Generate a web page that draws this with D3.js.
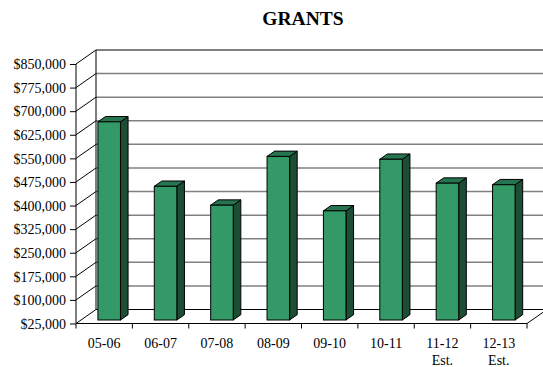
<!DOCTYPE html>
<html>
<head>
<meta charset="utf-8">
<script src="https://cdn.jsdelivr.net/npm/d3@7"></script>
<style>
  body { margin: 0; background: #fff; }
  text { font-family: "Liberation Serif", "Times New Roman", serif; fill: #000; }
</style>
</head>
<body>
<script>
// Grant totals per fiscal year
const years = ["05-06", "06-07", "07-08", "08-09", "09-10", "10-11", "11-12", "12-13"];
const yearNotes = ["", "", "", "", "", "", "Est.", "Est."];
const grants = [655000, 450000, 390000, 545000, 372000, 536000, 460000, 455000];
const yTicks = [25000, 100000, 175000, 250000, 325000, 400000, 475000, 550000, 625000, 700000, 775000, 850000];

const width = 543, height = 367;
const plotLeft = 76, plotRight = 527, plotTop = 64, floorY = 323.5;
const depthX = 20, depthY = -14;   // floor/wall depth
const barOff = 0.25, barDepth = 0.38; // bar position inside the floor depth

const svg = d3.select("body").append("svg")
    .attr("width", width)
    .attr("height", height);

const x = d3.scaleBand().domain(years).range([plotLeft, plotRight]).padding(0);
const y = d3.scaleLinear().domain([25000, 850000]).range([floorY, plotTop]);

// Title
svg.append("text")
    .attr("x", 303).attr("y", 25)
    .attr("text-anchor", "middle")
    .style("font-size", "19.5px")
    .style("font-weight", "bold")
    .text("GRANTS");

// Back wall gridlines
const walls = svg.append("g");
walls.selectAll("line.grid")
    .data(yTicks)
    .enter().append("line")
    .attr("x1", plotLeft + depthX).attr("x2", plotRight + depthX)
    .attr("y1", d => y(d) + depthY).attr("y2", d => y(d) + depthY)
    .attr("stroke", (d, i) => (i === 0 || i === yTicks.length - 1) ? "#000" : "#808080")
    .attr("stroke-width", (d, i) => (i === 0 || i === yTicks.length - 1) ? 1.2 : 1.5);

// Side wall diagonals
walls.selectAll("line.diag")
    .data(yTicks)
    .enter().append("line")
    .attr("x1", plotLeft).attr("x2", plotLeft + depthX)
    .attr("y1", d => y(d)).attr("y2", d => y(d) + depthY)
    .attr("stroke", "#000");

// Back wall left edge
walls.append("line")
    .attr("x1", plotLeft + depthX).attr("x2", plotLeft + depthX)
    .attr("y1", y(850000) + depthY).attr("y2", y(25000) + depthY)
    .attr("stroke", "#000");

// Floor right edge
walls.append("line")
    .attr("x1", plotRight).attr("x2", plotRight + depthX)
    .attr("y1", floorY).attr("y2", floorY + depthY)
    .attr("stroke", "#000");

// Bars
const ox = depthX * barOff, oy = depthY * barOff;
const bx = depthX * barDepth, by = depthY * barDepth;
const bw = x.bandwidth() * 0.4;

const bars = svg.append("g")
    .selectAll("g")
    .data(years.map((c, i) => ({ c, v: grants[i] })))
    .enter().append("g");

bars.each(function(d) {
    const g = d3.select(this);
    const x0 = x(d.c) + x.bandwidth() * 0.3 + ox;
    const x1 = x0 + bw;
    const yt = y(d.v) + oy;
    const yb = y(25000) + oy;
    // side face
    g.append("path")
        .attr("d", `M${x1},${yt}L${x1 + bx},${yt + by}L${x1 + bx},${yb + by}L${x1},${yb}Z`)
        .attr("fill", "#1d4d34").attr("stroke", "#000").attr("stroke-linejoin", "round");
    // top face
    g.append("path")
        .attr("d", `M${x0},${yt}L${x0 + bx},${yt + by}L${x1 + bx},${yt + by}L${x1},${yt}Z`)
        .attr("fill", "#277550").attr("stroke", "#000").attr("stroke-linejoin", "round");
    // front face
    g.append("rect")
        .attr("x", x0).attr("y", yt)
        .attr("width", bw).attr("height", yb - yt)
        .attr("fill", "#339966").attr("stroke", "#000");
});

// Front value axis
const yAxis = svg.append("g")
    .attr("transform", `translate(${plotLeft},0)`)
    .call(d3.axisLeft(y).tickValues(yTicks).tickSize(6).tickPadding(4)
        .tickFormat(d => "$" + d3.format(",")(d)));
yAxis.select(".domain").attr("stroke", "#000").attr("d", `M0,${plotTop}V${floorY}`);
yAxis.selectAll("text").style("font-size", "14px").attr("dy", "0.34em");

// Front category axis
const xAxis = svg.append("g")
    .attr("transform", `translate(0,${floorY})`);
xAxis.append("line")
    .attr("x1", plotLeft).attr("x2", plotRight)
    .attr("stroke", "#000");
xAxis.selectAll("line.tick")
    .data(d3.range(years.length + 1))
    .enter().append("line")
    .attr("x1", i => plotLeft + i * x.step()).attr("x2", i => plotLeft + i * x.step())
    .attr("y1", 0).attr("y2", 5)
    .attr("stroke", "#000");
xAxis.selectAll("text.cat")
    .data(years)
    .enter().append("text")
    .attr("x", d => x(d) + x.bandwidth() / 2)
    .attr("y", 24)
    .attr("text-anchor", "middle")
    .style("font-size", "14px")
    .text(d => d);
xAxis.selectAll("text.note")
    .data(years.filter((d, i) => yearNotes[i]))
    .enter().append("text")
    .attr("x", d => x(d) + x.bandwidth() / 2)
    .attr("y", 41)
    .attr("text-anchor", "middle")
    .style("font-size", "14px")
    .text(d => yearNotes[years.indexOf(d)]);
</script>
</body>
</html>
